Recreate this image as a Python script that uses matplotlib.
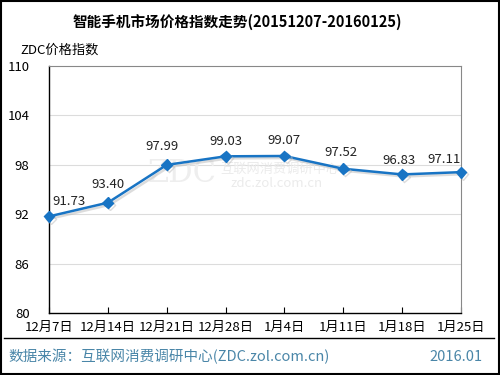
import matplotlib
matplotlib.use("Agg")
import matplotlib.pyplot as plt
from matplotlib.patches import Rectangle
import matplotlib.patheffects as pe

plt.rcParams['font.family'] = ['Noto Sans CJK SC', 'DejaVu Sans']

categories = ["12月7日", "12月14日", "12月21日", "12月28日", "1月4日", "1月11日", "1月18日", "1月25日"]
values = [91.73, 93.40, 97.99, 99.03, 99.07, 97.52, 96.83, 97.11]
yticks = [80, 86, 92, 98, 104, 110]

# label offsets in pixels (layout only)
label_dx = [20, 0, -5, 0, 0, -2, -3, -17]
label_dy = [15, 18, 18, 15, 15, 16, 14, 13]

W, H = 500, 375
fig = plt.figure(figsize=(W / 100, H / 100), dpi=100)
fig.patch.set_facecolor("white")
fig.add_artist(Rectangle((0.002, 0.003), 0.995, 0.994, transform=fig.transFigure,
                         fill=False, edgecolor="black", linewidth=1.5))

left, right, top, bottom = 49, 461, 66, 313
ax = fig.add_axes([left / W, 1 - bottom / H, (right - left) / W, (bottom - top) / H])
x = list(range(len(categories)))
ax.set_xlim(0, len(categories) - 1)
ax.set_ylim(80, 110)
ax.set_yticks(yticks)
ax.set_yticklabels([str(t) for t in yticks], fontsize=9.5)
ax.set_xticks(x)
ax.set_xticklabels(categories, fontsize=9.5)
ax.tick_params(axis='y', length=0, pad=14)
ax.tick_params(axis='x', length=4, direction='in', pad=6)
for t in yticks[1:-1]:
    ax.axhline(t, color="#dcdcdc", linewidth=0.8, zorder=0)
for s in ["left", "bottom"]:
    ax.spines[s].set_color("black")
    ax.spines[s].set_linewidth(1.0)
for s in ["top", "right"]:
    ax.spines[s].set_color("#888888")
    ax.spines[s].set_linewidth(0.8)

ax.text(182 / W, 1 - 174 / H, "ZDC", transform=fig.transFigure, fontsize=22,
        color="#eeeeee", ha="center", va="center", family="DejaVu Serif", zorder=0.5)
ax.text(280 / W, 1 - 169 / H, "互联网消费调研中心", transform=fig.transFigure, fontsize=9.5,
        color="#ebebeb", ha="center", va="center", zorder=0.5)
ax.text(277 / W, 1 - 184 / H, "zdc.zol.com.cn", transform=fig.transFigure, fontsize=9.5,
        color="#ebebeb", ha="center", va="center", zorder=0.5)

ax.plot(x, values, color="#1874c4", linewidth=1.8, marker="D", markersize=5.5,
        clip_on=False, zorder=5,
        path_effects=[pe.SimpleLineShadow(offset=(1.5, -1.5), shadow_color="#bbbbbb", alpha=0.5),
                      pe.Normal()])
for xi, v, dx, dy in zip(x, values, label_dx, label_dy):
    ax.annotate(f"{v:.2f}", (xi, v), xytext=(dx * 0.72, dy * 0.72), textcoords="offset points",
                ha="center", va="center", fontsize=9.5, color="#222222", zorder=6)

fig.text(0.475, 1 - 22 / H, "智能手机市场价格指数走势(20151207-20160125)", ha="center",
         va="center", fontsize=10.5, fontweight="bold")
fig.text(20 / W, 1 - 50 / H, "ZDC价格指数", ha="left", va="center", fontsize=9.5)

fig.add_artist(plt.Line2D([4 / W, 494 / W], [1 - 338 / H, 1 - 338 / H],
                          transform=fig.transFigure, color="black", linewidth=1))
fig.text(8 / W, 1 - 357 / H, "数据来源：互联网消费调研中心(ZDC.zol.com.cn)", ha="left",
         va="center", fontsize=10.5, color="#4a86a8")
fig.text(483 / W, 1 - 357 / H, "2016.01", ha="right", va="center", fontsize=10.5,
         color="#4a86a8")

fig.savefig("out.png", dpi=100)
